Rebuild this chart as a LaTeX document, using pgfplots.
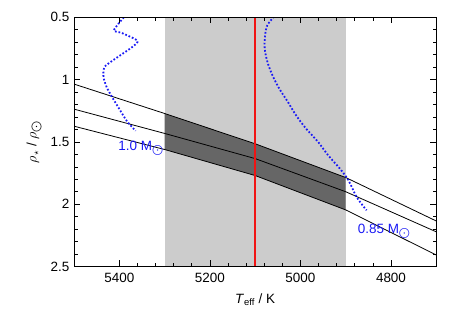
\documentclass[border=0pt]{standalone}
\usepackage{pgfplots}
\pgfplotsset{compat=1.18}
\usepackage{fontspec}
\setmainfont{Liberation Sans}

\definecolor{bandgray}{RGB}{204,204,204}
\definecolor{darkband}{RGB}{102,102,102}
\definecolor{isoblue}{RGB}{25,25,245}
\definecolor{teffred}{RGB}{240,20,20}

\begin{document}
\fontsize{13.5}{16}\selectfont
\begin{tikzpicture}
\begin{axis}[
    scale only axis,
    width=362bp, height=249bp,
    xmin=4700, xmax=5500,
    ymin=0.5, ymax=2.5,
    x dir=reverse, y dir=reverse,
    xtick={4800,5000,5200,5400},
    ytick={0.5,1,1.5,2,2.5},
    minor x tick num=4,
    minor y tick num=4,
    major tick length=6bp,
    minor tick length=3.5bp,
    tick style={black, line width=0.6pt},
    axis line style={line width=0.8pt},
    /pgf/number format/1000 sep={},
    /pgf/number format/assume math mode=true,
    ticklabel style={font=\fontsize{13.5}{16}\selectfont},
    xticklabel style={yshift=-2bp},
    xlabel={\textit{T}\textsubscript{eff} / K},
    xlabel style={yshift=-2bp},
    ylabel={$\rho_\star$ / $\rho_{\bigodot}$},
    label style={font=\fontsize{13.5}{16}\selectfont},
    axis on top,
    clip=true,
]
% observed Teff range
\addplot[fill=bandgray, draw=none] coordinates {
    (5300,0.5) (4900,0.5) (4900,2.5) (5300,2.5)
} -- cycle;
% allowed region
\addplot[fill=darkband, draw=none] coordinates {
    (5300,1.272) (5100,1.515) (4900,1.786)
    (4900,2.046) (5100,1.770) (5300,1.561)
} -- cycle;
% density relations
\addplot[black, line width=0.8pt] coordinates {
    (5500,1.036) (5300,1.272) (5100,1.515) (4900,1.786) (4700,2.135)
};
\addplot[black, line width=0.8pt] coordinates {
    (5500,1.237) (5300,1.432) (5100,1.634) (4900,1.900) (4700,2.222)
};
\addplot[black, line width=0.8pt] coordinates {
    (5500,1.374) (5300,1.561) (5100,1.770) (4900,2.046) (4700,2.408)
};
% adopted Teff (drawn as a narrow band, 5098-5102 K)
\addplot[fill=teffred, draw=none] coordinates {
    (5102,0.5) (5098,0.5) (5098,2.5) (5102,2.5)
} -- cycle;
% isochrone tracks
\addplot[isoblue, line width=1.8pt, dash pattern=on 1.7bp off 1.9bp, smooth, tension=0.4] coordinates {
    (5390,0.50) (5412,0.604) (5395,0.625) (5360,0.688) (5372,0.74)
    (5412,0.84) (5433,0.90) (5435,0.98) (5428,1.06) (5416,1.14)
    (5401,1.23) (5382,1.34) (5364,1.41)
};
\addplot[isoblue, line width=1.8pt, dash pattern=on 1.7bp off 1.9bp, smooth] coordinates {
    (5058,0.495) (5073,0.562) (5078,0.642) (5079,0.749) (5073,0.857)
    (5062,0.964) (5047,1.071) (5028,1.178) (5010,1.285) (4988,1.392)
    (4961,1.500) (4939,1.607) (4913,1.714) (4894,1.808) (4876,1.942)
    (4854,2.049)
};
\node[isoblue] at (axis cs:5352,1.55) {1.0 M$_{\bigodot}$};
\node[isoblue] at (axis cs:4815,2.215) {0.85 M$_{\bigodot}$};
\end{axis}
\path ([xshift=-74bp,yshift=-61bp]current axis.south west) rectangle ([xshift=21.7bp,yshift=17.3bp]current axis.north east);
\end{tikzpicture}
\end{document}
